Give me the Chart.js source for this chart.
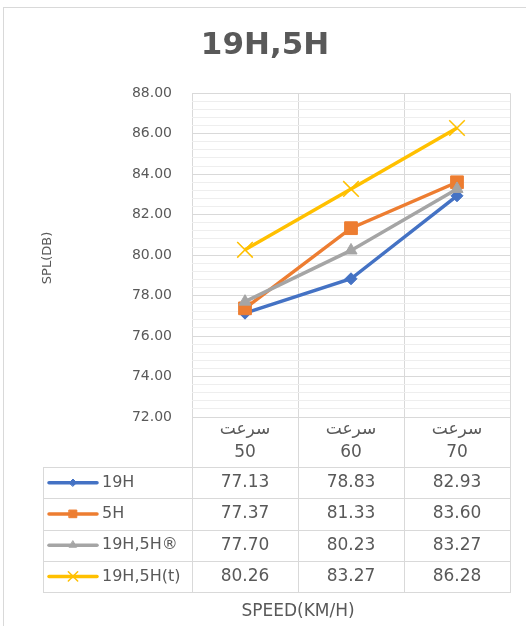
<!DOCTYPE html>
<html>
<head>
<meta charset="utf-8">
<script src="https://cdn.jsdelivr.net/npm/chart.js@4.4.1/dist/chart.umd.min.js"></script>
<style>
  html, body { margin: 0; padding: 0; background: #fff; }
  #wrap { width: 526px; height: 626px; }
</style>
</head>
<body>
<div id="wrap"><canvas id="chart" width="526" height="626"></canvas></div>
<script>
// data
const speeds = ['50', '60', '70'];
const speedWord = 'سرعت';
const seriesNames = ['19H', '5H', '19H,5H®', '19H,5H(t)'];
const spl19H = [77.13, 78.83, 82.93];
const spl5H = [77.37, 81.33, 83.60];
const spl19H5H = [77.70, 80.23, 83.27];
const spl19H5Ht = [80.26, 83.27, 86.28];
const yMin = 72, yMax = 88, yMajor = 2, yMinor = 0.4;

const colors = ['#4472C4', '#ED7D31', '#A5A5A5', '#FFC000'];
const markers = [
  { style: 'rectRot', radius: 6 },
  { style: 'rect', radius: 9 },
  { style: 'triangle', radius: 7 },
  { style: 'crossRot', radius: 11 }
];
const allSeries = [spl19H, spl5H, spl19H5H, spl19H5Ht];
const textColor = '#595959';
const gridMajor = '#d9d9d9';
const gridMinor = '#eeeeee';
const FONT = "'DejaVu Sans', sans-serif";

Chart.defaults.font.family = FONT;
Chart.defaults.color = textColor;

const isMajor = v => Math.abs(v / yMajor - Math.round(v / yMajor)) < 1e-6;

// data table + axis titles + frame
const extras = {
  id: 'extras',
  beforeDraw(chart) {
    const ctx = chart.ctx;
    ctx.save();
    ctx.strokeStyle = gridMajor;
    ctx.lineWidth = 1;
    ctx.strokeRect(3.5, 7.5, 540, 640);
    ctx.restore();
  },
  afterDraw(chart) {
    const ctx = chart.ctx;
    const xs = chart.scales.x;
    const area = chart.chartArea;
    const top = xs.bottom;
    const rowH = 31.25;
    const left = 43;
    const bottom = top + rowH * allSeries.length;
    ctx.save();
    ctx.strokeStyle = gridMajor;
    ctx.lineWidth = 1;
    ctx.beginPath();
    for (let i = 0; i <= allSeries.length; i++) {
      const y = Math.round(top + i * rowH) + 0.5;
      ctx.moveTo(left, y);
      ctx.lineTo(area.right + 1, y);
    }
    ctx.moveTo(left + 0.5, top);
    ctx.lineTo(left + 0.5, bottom);
    for (let k = 0; k <= speeds.length; k++) {
      const x = Math.round(xs.getPixelForValue(k - 0.5)) + 0.5;
      ctx.moveTo(x, area.bottom);
      ctx.lineTo(x, bottom);
    }
    ctx.stroke();

    ctx.textBaseline = 'middle';
    allSeries.forEach((vals, i) => {
      const cy = top + i * rowH + rowH / 2;
      // legend key
      ctx.strokeStyle = colors[i];
      ctx.fillStyle = colors[i];
      ctx.lineWidth = 3.5;
      ctx.lineCap = 'round';
      ctx.beginPath();
      ctx.moveTo(49, cy);
      ctx.lineTo(97, cy);
      ctx.stroke();
      ctx.lineWidth = markers[i].style === 'crossRot' ? 1.5 : 1;
      Chart.helpers.drawPoint(ctx, {
        pointStyle: markers[i].style,
        radius: markers[i].radius * 0.6,
        rotation: 0,
        borderWidth: ctx.lineWidth
      }, 73, cy);
      ctx.fillStyle = textColor;
      ctx.font = '16px ' + FONT;
      ctx.textAlign = 'left';
      ctx.fillText(seriesNames[i], 102, cy);
      ctx.font = '17px ' + FONT;
      ctx.textAlign = 'center';
      vals.forEach((v, j) => {
        ctx.fillText(v.toFixed(2), xs.getPixelForValue(j), cy);
      });
    });

    // axis titles
    ctx.fillStyle = textColor;
    ctx.font = '17px ' + FONT;
    ctx.textAlign = 'center';
    ctx.fillText('SPEED(KM/H)', 298, 612);
    ctx.translate(48, 258);
    ctx.rotate(-Math.PI / 2);
    ctx.font = '13px ' + FONT;
    ctx.fillText('SPL(DB)', 0, 0);
    ctx.restore();
  }
};

const datasets = allSeries.map((vals, i) => ({
  label: seriesNames[i],
  data: vals,
  borderColor: colors[i],
  backgroundColor: colors[i],
  borderWidth: 3.5,
  pointStyle: markers[i].style,
  pointRadius: markers[i].radius,
  pointBorderWidth: markers[i].style === 'crossRot' ? 1.5 : 1,
  pointBackgroundColor: colors[i],
  pointBorderColor: colors[i],
  tension: 0,
  order: allSeries.length - i
}));

new Chart(document.getElementById('chart'), {
  type: 'line',
  data: {
    labels: speeds.map(s => [speedWord, s]),
    datasets: datasets
  },
  options: {
    responsive: false,
    animation: false,
    layout: { padding: { left: 20, right: 16, top: 0, bottom: 159 } },
    plugins: {
      legend: { display: false },
      tooltip: { enabled: false },
      title: {
        display: true,
        text: '19H,5H',
        color: textColor,
        font: { size: 31, weight: 'bold', family: FONT },
        padding: { top: 27, bottom: 29 }
      }
    },
    scales: {
      x: {
        offset: true,
        grid: { offset: true, color: gridMajor, drawTicks: false },
        border: { display: false },
        ticks: {
          padding: 1,
          color: textColor,
          font: { size: 17, lineHeight: '23px' },
          maxRotation: 0
        },
        afterFit: s => { s.height = 50; }
      },
      y: {
        min: yMin,
        max: yMax,
        border: { display: false },
        grid: {
          drawTicks: false,
          color: c => (c.tick && isMajor(c.tick.value)) ? gridMajor : gridMinor
        },
        ticks: {
          stepSize: yMinor,
          autoSkip: false,
          padding: 20,
          color: textColor,
          font: { size: 14 },
          callback: v => isMajor(v) ? v.toFixed(2) : ''
        },
        afterFit: s => { s.width = 172; }
      }
    }
  },
  plugins: [extras]
});
</script>
</body>
</html>
